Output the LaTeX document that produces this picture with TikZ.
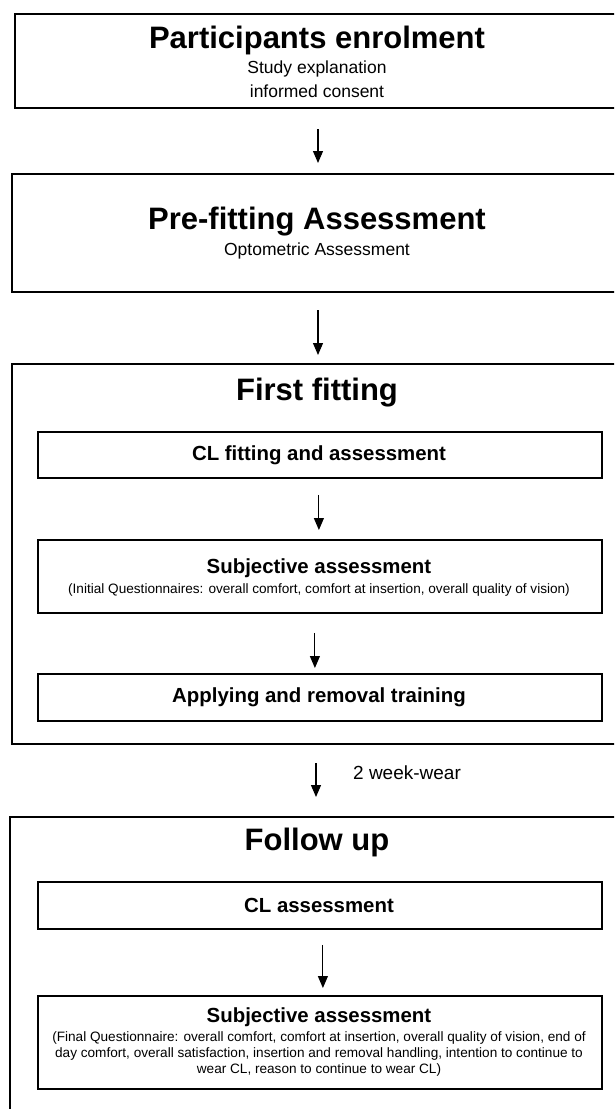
\documentclass[tikz,border=0pt]{standalone}
\usepackage{fontspec}
\setmainfont{Liberation Sans}
\usetikzlibrary{arrows.meta}

\tikzset{
  stage/.style={draw=black, line width=2pt, anchor=north west, inner sep=0pt},
  stepbox/.style={draw=black, line width=1.8pt, anchor=north west, inner sep=0pt,
                  minimum width=564},
  flow/.style={-{Triangle[width=10pt,length=12pt]}, line width=1.1pt},
  stagetitle/.style={inner sep=0pt, font=\fontsize{31}{36}\selectfont\bfseries},
  stagenote/.style={inner sep=0pt, font=\fontsize{17.5}{20}\selectfont},
  steptitle/.style={inner sep=0pt, font=\fontsize{20.4}{24}\selectfont\bfseries},
  stepnote/.style={inner sep=0pt, align=center, font=\fontsize{13.6}{16}\selectfont},
  waitnote/.style={inner sep=0pt, anchor=west, font=\fontsize{19}{22}\selectfont},
}

\begin{document}
\begin{tikzpicture}[x=1pt, y=-1pt]
  \useasboundingbox (0,0) rectangle (614,1109);
  \fill[white] (0,0) rectangle (614,1109);
  \clip (0,0) rectangle (614,1109);

  % Stage 1: enrolment
  \node[stage, minimum width=606, minimum height=94] (enrol) at (14,13) {};
  \node[stagetitle] (enrolT) at (317,40) {Participants enrolment};
  \node[stagenote] (enrolA) at (317,69) {Study explanation};
  \node[stagenote] (enrolB) at (317,91) {informed consent};

  % Stage 2: pre-fitting
  \node[stage, minimum width=612, minimum height=118] (pre) at (11,173) {};
  \node[stagetitle] (preT) at (317,222) {Pre-fitting Assessment};
  \node[stagenote] (preA) at (317,251) {Optometric Assessment};

  % Stage 3: first fitting
  \node[stage, minimum width=612, minimum height=380] (first) at (11,363) {};
  \node[stagetitle] (firstT) at (317,393) {First fitting};

  \node[stepbox, minimum height=46] (fit) at (37,431) {};
  \node[steptitle] (fitT) at (319,455) {CL fitting and assessment};

  \node[stepbox, minimum height=73] (subjA) at (37,539) {};
  \node[steptitle] (subjAT) at (319,568) {Subjective assessment};
  \node[stepnote] (subjAN) at (319,590)
    {(Initial Questionnaires: overall comfort, comfort at insertion, overall quality of vision)};

  \node[stepbox, minimum height=47] (train) at (37,673) {};
  \node[steptitle] (trainT) at (319,697) {Applying and removal training};

  % Stage 4: follow up
  \node[stage, minimum width=616, minimum height=320] (follow) at (9,816) {};
  \node[stagetitle] (followT) at (317,842) {Follow up};

  \node[stepbox, minimum height=47] (clA) at (37,881) {};
  \node[steptitle] (clAT) at (319,905) {CL assessment};

  \node[stepbox, minimum height=93] (subjB) at (37,995) {};
  \node[steptitle] (subjBT) at (319,1017) {Subjective assessment};
  \node[stepnote] (subjBN) at (319,1054)
    {(Final Questionnaire: overall comfort, comfort at insertion, overall quality of vision, end of\\
     day comfort, overall satisfaction, insertion and removal handling, intention to continue to\\
     wear CL, reason to continue to wear CL)};

  % Connectors
  \draw[flow, shorten <=20pt, shorten >=10pt] (enrol.south) -- (pre.north);
  \draw[flow, shorten <=17pt, shorten >=8pt] (pre.south) -- (first.north);
  \draw[flow, shorten <=16pt, shorten >=9pt] ([xshift=-1pt]fit.south) -- ([xshift=-1pt]subjA.north);
  \draw[flow, shorten <=19pt, shorten >=5pt] ([xshift=-5pt]subjA.south) -- ([xshift=-5pt]train.north);
  \draw[flow, shorten <=18pt, shorten >=19pt] ([xshift=-2pt]first.south) -- ([xshift=-2pt]follow.north);
  \node[waitnote] (wear) at (353,773) {2 week-wear};
  \draw[flow, shorten <=15pt, shorten >=7pt] ([xshift=3pt]clA.south) -- ([xshift=3pt]subjB.north);
\end{tikzpicture}
\end{document}
